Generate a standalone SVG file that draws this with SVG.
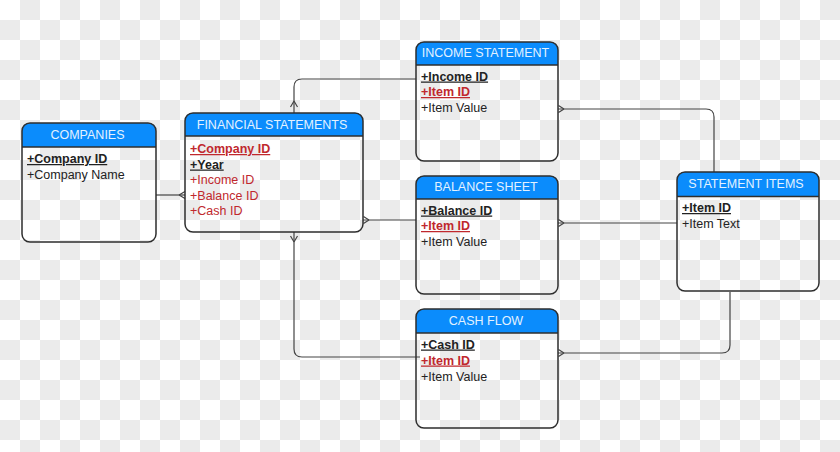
<svg xmlns="http://www.w3.org/2000/svg" width="840" height="452" viewBox="0 0 840 452">
<defs>
<pattern id="chk" x="0" y="0" width="40" height="40" patternUnits="userSpaceOnUse">
<rect x="0" y="0" width="40" height="40" fill="#ffffff"/>
<rect x="20" y="0" width="20" height="20" fill="#ebebeb"/>
<rect x="0" y="20" width="20" height="20" fill="#ebebeb"/>
</pattern>
<style>
.hdr{fill:#0b8cfc;}
.box{fill:none;stroke:#2e2e2e;stroke-width:1.5;}
.sep{stroke:#2e2e2e;stroke-width:1.5;}
.title{font-family:"Liberation Sans",Arial,sans-serif;font-size:12.5px;fill:#e3f2ff;text-anchor:middle;}
.row{font-family:"Liberation Sans",Arial,sans-serif;font-size:12.5px;fill:#222;}
.key{font-weight:bold;text-decoration:underline;}
.red{fill:#c0282d;}
.con{fill:none;stroke:#444;stroke-width:1.2;}
</style>
</defs>
<rect width="840" height="452" fill="url(#chk)"/>

<g id="connectors">
<path class="con" d="M156,195 H185"/>
<path class="con" d="M179,195 L185,191.5 M179,195 L185,198.5"/>
<path class="con" d="M294,113 V87 Q294,79 302,79 H416"/>
<path class="con" d="M294,101 L290.5,107 M294,101 L297.5,107"/>
<path class="con" d="M294,232 V349 Q294,357 302,357 H420"/>
<path class="con" d="M294,242 L290.5,236 M294,242 L297.5,236"/>
<path class="con" d="M363,220 H416"/>
<path class="con" d="M369,220 L363.5,216.5 M369,220 L363.5,223.5"/>
<path class="con" d="M558,109 H706 Q714,109 714,117 V172"/>
<path class="con" d="M564,109 L558.5,105.5 M564,109 L558.5,112.5"/>
<path class="con" d="M558,223 H677"/>
<path class="con" d="M564,223 L558.5,219.5 M564,223 L558.5,226.5"/>
<path class="con" d="M558,353 H722 Q730,353 730,345 V292"/>
<path class="con" d="M564,353 L558.5,349.5 M564,353 L558.5,356.5"/>
</g>

<g id="companies">
<path class="hdr" d="M22,147 V131 Q22,123 30,123 H148 Q156,123 156,131 V147 Z"/>
<rect class="box" x="22" y="123" width="134" height="119" rx="8"/>
<line class="sep" x1="22" y1="147" x2="156" y2="147"/>
<text class="title" x="87.5" y="138.5">COMPANIES</text>
<text class="row key" x="27" y="163">+Company ID</text>
<text class="row" x="27" y="178.5">+Company Name</text>
</g>

<g id="financial-statements">
<path class="hdr" d="M185,136 V121 Q185,113 193,113 H355 Q363,113 363,121 V136 Z"/>
<rect class="box" x="185" y="113" width="178" height="119" rx="8"/>
<line class="sep" x1="185" y1="136" x2="363" y2="136"/>
<text class="title" x="272" y="128.5">FINANCIAL STATEMENTS</text>
<text class="row key red" x="190" y="153">+Company ID</text>
<text class="row key" x="190" y="168.5">+Year</text>
<text class="row red" x="190" y="184">+Income ID</text>
<text class="row red" x="190" y="199.5">+Balance ID</text>
<text class="row red" x="190" y="215">+Cash ID</text>
</g>

<g id="income-statement">
<path class="hdr" d="M416,65 V50 Q416,42 424,42 H550 Q558,42 558,50 V65 Z"/>
<rect class="box" x="416" y="42" width="142" height="119" rx="8"/>
<line class="sep" x1="416" y1="65" x2="558" y2="65"/>
<text class="title" x="485.5" y="57">INCOME STATEMENT</text>
<text class="row key" x="421" y="80.5">+Income ID</text>
<text class="row key red" x="421" y="96">+Item ID</text>
<text class="row" x="421" y="112">+Item Value</text>
</g>

<g id="balance-sheet">
<path class="hdr" d="M416,199 V184 Q416,176 424,176 H550 Q558,176 558,184 V199 Z"/>
<rect class="box" x="416" y="176" width="142" height="118" rx="8"/>
<line class="sep" x1="416" y1="199" x2="558" y2="199"/>
<text class="title" x="486" y="191">BALANCE SHEET</text>
<text class="row key" x="421" y="214.5">+Balance ID</text>
<text class="row key red" x="421" y="230">+Item ID</text>
<text class="row" x="421" y="246">+Item Value</text>
</g>

<g id="statement-items">
<path class="hdr" d="M677,196.5 V180 Q677,172 685,172 H811 Q819,172 819,180 V196.5 Z"/>
<rect class="box" x="677" y="172" width="142" height="119" rx="8"/>
<line class="sep" x1="677" y1="196.5" x2="819" y2="196.5"/>
<text class="title" x="746" y="188">STATEMENT ITEMS</text>
<text class="row key" x="682" y="212">+Item ID</text>
<text class="row" x="682" y="228">+Item Text</text>
</g>

<g id="cash-flow">
<path class="hdr" d="M416,333 V317 Q416,309 424,309 H550 Q558,309 558,317 V333 Z"/>
<rect class="box" x="416" y="309" width="142" height="119" rx="8"/>
<line class="sep" x1="416" y1="333" x2="558" y2="333"/>
<text class="title" x="486" y="325">CASH FLOW</text>
<text class="row key" x="421" y="348.5">+Cash ID</text>
<text class="row key red" x="421" y="364.5">+Item ID</text>
<text class="row" x="421" y="380.5">+Item Value</text>
</g>
</svg>
